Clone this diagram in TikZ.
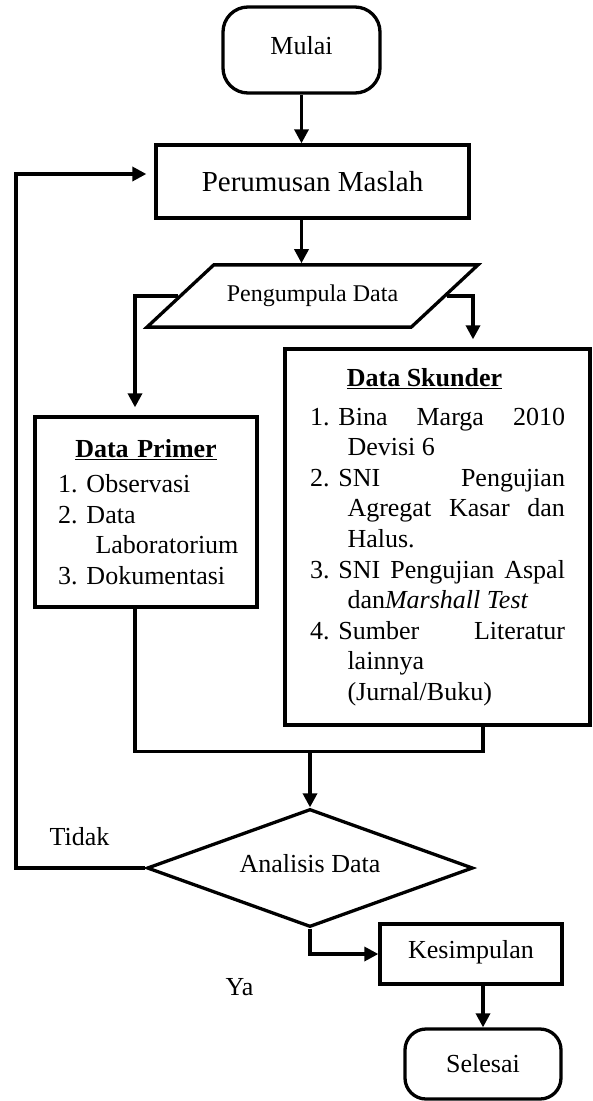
\documentclass[tikz,border=0pt]{standalone}
\usepackage{fontspec}
\setmainfont{Liberation Serif}
\usepackage{tikz}
\usetikzlibrary{positioning,shapes.geometric,arrows.meta}

\newcommand{\butir}[2]{\par\hangindent=37.5pt\hangafter=1\noindent\makebox[28.5pt][l]{#1}#2}
\newcommand{\barisbaru}{\hfil\break}

\begin{document}
\begin{tikzpicture}[x=1pt,y=-1pt,line width=3.3pt,node distance=2cm,on grid,
    >={Triangle[length=14pt,width=14pt]},
    every node/.style={font=\fontsize{26}{30.6}\selectfont},
    mulaiakhir/.style={draw,rectangle,rounded corners=25pt,minimum width=157pt,minimum height=86pt},
    proses/.style={draw,rectangle,minimum width=182pt,minimum height=60pt},
    masukan/.style={draw,trapezium,trapezium left angle=43,trapezium right angle=137,
        trapezium stretches body,inner ysep=20.2pt,minimum width=331pt,font=\fontsize{24}{28}\selectfont},
    daftar/.style={draw,rectangle},
    keputusan/.style={draw,diamond,aspect=2.76,minimum width=326pt,minimum height=118pt},
    naik/.style={text depth=10pt},
    jauh/.style={shorten >=8pt}]
    \useasboundingbox (0,0) rectangle (593,1101);

    \node[mulaiakhir,naik] (mulai) at (301.5,50) {Mulai};
    \node[proses,minimum width=313pt,minimum height=73pt,font=\fontsize{29}{34}\selectfont] (rumus) [below right=131.5pt and 11pt of mulai] {Perumusan Maslah};
    \node[masukan] (kumpul) [below=114.5pt of rumus] {Pengumpula Data};
    \node[daftar,text width=176pt,inner xsep=23pt,minimum height=190pt,align=left] (primer) [below left=216pt and 166.5pt of kumpul]
        {{\centering\underline{\textbf{Data Primer}}\par}\vspace{4.5pt}
         \butir{1.}{Observasi}
         \butir{2.}{Data\barisbaru Laboratorium}
         \butir{3.}{Dokumentasi}\par};
    \node[daftar,text width=255pt,inner xsep=25pt,minimum height=376pt,align=justify] (skunder) [below right=241pt and 125pt of kumpul]
        {{\centering\underline{\textbf{Data Skunder}}\hspace*{26pt}\par}\vspace{8.5pt}
         \butir{1.}{Bina Marga 2010\linebreak Devisi 6}
         \butir{2.}{SNI Pengujian\linebreak Agregat Kasar dan\linebreak Halus.}
         \butir{3.}{SNI Pengujian Aspal\linebreak dan\textit{Marshall Test}}
         \butir{4.}{Sumber Literatur\linebreak lainnya\barisbaru (Jurnal/Buku)}\par};
    \node[keputusan,naik] (analisis) [below left=572pt and 2.5pt of kumpul] {Analisis Data};
    \node[proses,naik] (simpul) [below right=86pt and 161pt of analisis] {Kesimpulan};
    \node[mulaiakhir,rounded corners=21pt,minimum width=156pt,minimum height=70pt] (selesai) [below right=110pt and 12pt of simpul] {Selesai};
    \node[inner sep=0pt] (tidak) at (79.5,837) {Tidak};
    \node[inner sep=0pt] (ya) at (239.5,987) {Ya};

    \coordinate (gabung) at ([yshift=56pt]analisis.north);
    \coordinate (balik) at (16,174);

    \draw[->] (mulai.south) -- (mulai.south |- rumus.north);
    \draw[->] (rumus.south -| mulai) -- (kumpul.north -| mulai);
    \draw[->,jauh] (kumpul.west) -| ([xshift=-11pt]primer.north);
    \draw[->,jauh] (kumpul.east) -| ([xshift=35.5pt]skunder.north);
    \draw ([xshift=-11pt]primer.south) |- (gabung) -| ([xshift=45.5pt]skunder.south);
    \draw[->] (gabung) -- (analisis.north);
    \draw[->,jauh] (analisis.west) -| (balik) -- (balik -| rumus.west);
    \draw[->] (analisis.south) |- (simpul.west);
    \draw[->] (simpul.south -| selesai) -- (selesai.north);
\end{tikzpicture}
\end{document}
